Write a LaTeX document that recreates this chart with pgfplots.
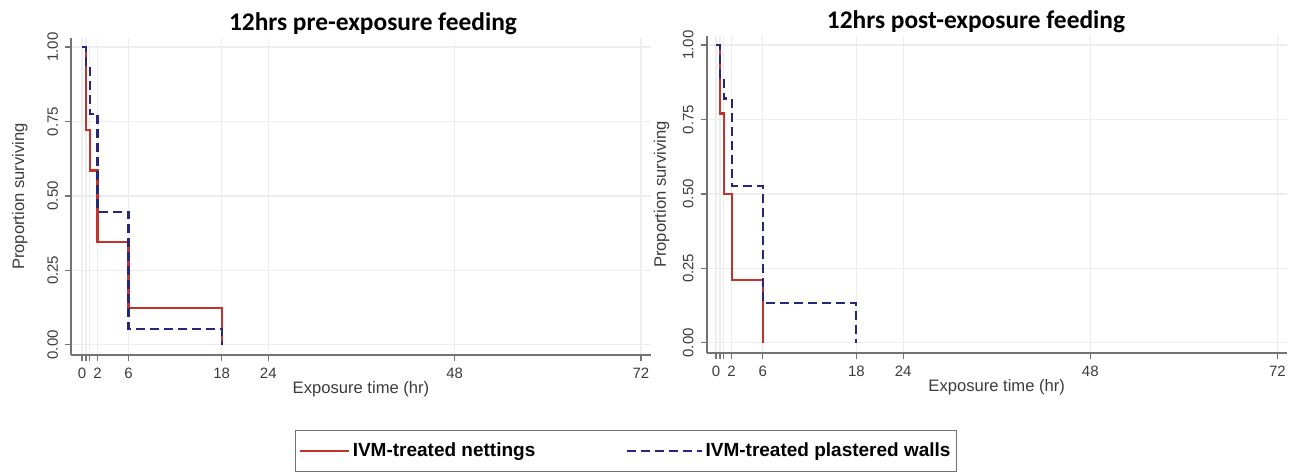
\documentclass[border=0pt]{standalone}
\usepackage{fontspec}
\setmainfont{Liberation Sans}
\newfontfamily\titlefont{Carlito}
\usepackage{pgfplots}
\pgfplotsset{compat=1.18}
\definecolor{kmred}{RGB}{196,50,46}
\definecolor{kmblue}{RGB}{38,38,122}
\definecolor{axgray}{RGB}{115,115,115}
\definecolor{txtgray}{RGB}{60,60,60}
\pgfplotsset{kmstyle/.style={
  scale only axis, width=290pt, height=158.5pt,
  axis x line*=bottom, axis y line*=left,
  axis line style={axgray, line width=0.8pt, -},
  xtick={0,0.5,1,2,6,18,24,48,72}, xticklabels={0,,,2,6,18,24,48,72},
  ytick={0,0.25,0.5,0.75,1}, yticklabels={0.00,0.25,0.50,0.75,1.00},
  yticklabel style={rotate=90, anchor=south},
  tick align=outside, major tick length=3pt, tick style={axgray, line width=0.6pt},
  grid=major, grid style={black!7, line width=0.6pt},
  /pgf/number format/assume math mode=true,
  ticklabel style={font=\fontsize{7.5}{8}\selectfont, text=txtgray},
  label style={font=\fontsize{8.3}{9}\selectfont, text=txtgray},
  xlabel={Exposure time (hr)}, ylabel={Proportion surviving},
  xlabel style={yshift=5.5pt},
  ymin=-0.034, ymax=1.03,
},
redleg/.style={legend image code/.code={\draw[##1] (0pt,0pt) -- (24.5pt,0pt);}},
blueleg/.style={legend image code/.code={\draw[##1] (0pt,0pt) -- (29pt,0pt); \path (0pt,0pt) -- (37.5pt,0pt);}},
}
\begin{document}
\begin{tikzpicture}
\useasboundingbox (0,0) rectangle (650.5pt,236.5pt);
\begin{axis}[kmstyle, at={(35.5pt,59pt)}, anchor=south west,
  xmin=-1.42, xmax=73.3,
  ylabel style={yshift=3pt},
  legend columns=2,
  legend style={at={(0.957,-0.303)}, anchor=center, draw=axgray, line width=0.6pt,
    font=\bfseries\fontsize{9.5}{11}\selectfont, inner xsep=1.5pt, inner ysep=4pt,
    nodes={inner xsep=1.5pt},
    /tikz/every even column/.append style={column sep=43.5pt}},
  ]
\addplot[const plot, kmred, line width=1.1pt, redleg]
  coordinates {(0,1) (0.5,0.72) (1,0.585) (2,0.345) (6,0.125) (18,0)};
\addlegendentry{IVM-treated nettings}
\addplot[const plot, kmblue, line width=1.1pt, dash pattern=on 4.5pt off 2.5pt, blueleg]
  coordinates {(0,1) (0.5,0.93) (1,0.775) (2,0.447) (6,0.053) (18,0)};
\addlegendentry{IVM-treated plastered walls\hspace{3pt}}
\end{axis}
\begin{axis}[kmstyle, at={(353.35pt,60pt)}, anchor=south west,
  xmin=-1.2, xmax=73.2]
\addplot[const plot, kmred, line width=1.1pt] coordinates {(0,1) (0.5,0.77) (1,0.50) (2,0.21) (6,0)};
\addplot[const plot, kmblue, line width=1.1pt, dash pattern=on 4.5pt off 2.5pt] coordinates {(0,1) (0.5,0.89) (1,0.82) (2,0.527) (6,0.135) (18,0)};
\end{axis}
\node[font=\titlefont\bfseries\fontsize{12.7}{14}\selectfont] at (186.5pt,224.5pt) {12hrs pre-exposure feeding};
\node[font=\titlefont\bfseries\fontsize{12.7}{14}\selectfont] at (488pt,225.5pt) {12hrs post-exposure feeding};
\end{tikzpicture}
\end{document}
